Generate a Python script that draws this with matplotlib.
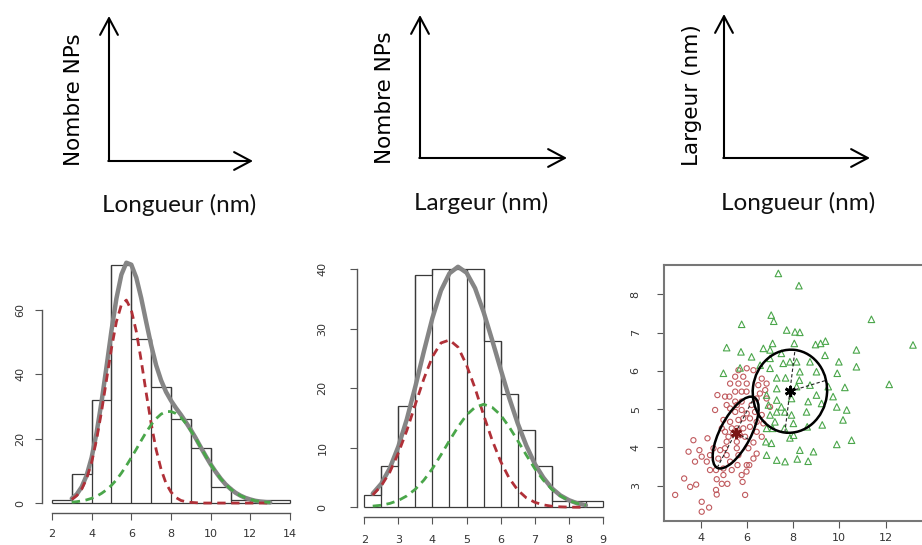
import matplotlib
matplotlib.use("Agg")
import matplotlib.pyplot as plt
from matplotlib.patches import Ellipse
from matplotlib.transforms import Affine2D
import numpy as np

W, H = 922, 545

# --- histogramme des longueurs (nm) ---
long_edges = [2, 3, 4, 5, 6, 7, 8, 9, 10, 11, 12, 13, 14]
long_counts = [1, 9, 32, 74, 51, 36, 26, 17, 5, 1, 1, 1]
long_x = [3.0, 3.25, 3.5, 3.75, 4.0, 4.25, 4.5, 4.75, 5.0, 5.25, 5.5, 5.75, 6.0, 6.25,
          6.5, 6.75, 7.0, 7.25, 7.5, 7.75, 8.0, 8.25, 8.5, 8.75, 9.0, 9.25, 9.5, 9.75,
          10.0, 10.25, 10.5, 10.75, 11.0, 11.25, 11.5, 11.75, 12.0, 12.25, 12.5, 12.75, 13.0]
long_total = [1.4, 2.7, 5.0, 8.6, 14.1, 21.8, 31.4, 42.3, 53.5, 63.5, 70.9, 74.6, 74.0, 70.0,
              63.6, 56.2, 49.0, 42.8, 38.1, 34.5, 31.8, 29.5, 27.4, 25.1, 22.7, 20.1, 17.3, 14.6,
              12.0, 9.7, 7.6, 5.8, 4.4, 3.2, 2.3, 1.6, 1.1, 0.7, 0.46, 0.29, 0.18]
long_red = [1.1, 2.3, 4.3, 7.6, 12.6, 19.7, 28.4, 38.2, 48.0, 56.3, 61.6, 63.0, 59.9, 53.3,
            44.2, 34.2, 24.7, 16.6, 10.5, 6.1, 3.4, 1.7, 0.8, 0.4, 0.2, 0.1, 0, 0,
            0, 0, 0, 0, 0, 0, 0, 0, 0, 0, 0, 0, 0]
long_green = [0.26, 0.42, 0.65, 0.99, 1.46, 2.1, 3.0, 4.1, 5.5, 7.2, 9.3, 11.6, 14.1, 16.7,
              19.4, 22.0, 24.3, 26.2, 27.6, 28.4, 28.4, 27.8, 26.6, 24.7, 22.5, 20.0, 17.3, 14.6,
              12.0, 9.7, 7.6, 5.8, 4.4, 3.2, 2.3, 1.6, 1.1, 0.7, 0.46, 0.29, 0.18]

# --- histogramme des largeurs (nm) ---
larg_edges = [2, 2.5, 3, 3.5, 4, 4.5, 5, 5.5, 6, 6.5, 7, 7.5, 8, 8.5, 9]
larg_counts = [2, 7, 17, 39, 40, 40, 40, 28, 19, 13, 7, 1, 1, 1]
larg_x = [2.25, 2.5, 2.75, 3.0, 3.25, 3.5, 3.75, 4.0, 4.25, 4.5, 4.75, 5.0, 5.25, 5.5,
          5.75, 6.0, 6.25, 6.5, 6.75, 7.0, 7.25, 7.5, 7.75, 8.0, 8.25, 8.5]
larg_total = [2.3, 3.95, 6.55, 10.2, 14.8, 20.3, 26.2, 31.8, 36.4, 39.3, 40.4, 39.4, 36.8, 32.8,
              28.1, 23.2, 18.4, 14.1, 10.4, 7.3, 5.0, 3.2, 2.0, 1.2, 0.66, 0.35]
larg_red = [2.06, 3.6, 5.9, 9.1, 12.9, 17.3, 21.6, 25.3, 27.6, 28.1, 26.9, 23.9, 20.0, 15.5,
            11.3, 7.7, 4.9, 2.9, 1.6, 0.84, 0.41, 0.18, 0.08, 0.03, 0.01, 0]
larg_green = [0.2, 0.35, 0.65, 1.14, 1.92, 3.04, 4.57, 6.5, 8.8, 11.2, 13.5, 15.5, 16.8, 17.3,
              16.8, 15.5, 13.5, 11.2, 8.8, 6.5, 4.57, 3.04, 1.92, 1.14, 0.65, 0.35]

# --- nuage longueur / largeur ---
red_x = [2.89, 4.04, 4.04, 4.36, 3.28, 3.54, 3.80, 4.69, 4.91, 5.15, 4.66, 4.69, 5.92, 5.81,
         5.98, 6.10, 3.47, 3.68, 4.29, 3.94, 4.04, 4.26, 4.55, 4.40, 4.66, 4.98, 5.34, 5.59,
         5.99, 5.63, 6.28, 6.42, 6.06, 6.28, 5.92, 5.56, 5.12, 4.84, 5.05, 5.34, 5.56, 4.98,
         4.62, 4.72, 5.05, 5.24, 5.49, 5.77, 5.27, 5.49, 5.77, 5.99, 6.13, 6.42, 6.13, 6.42,
         6.64, 6.71, 6.64, 5.49, 5.77, 5.98, 5.27, 5.63, 5.99, 5.49, 5.84, 5.63, 5.99, 6.28,
         6.64, 6.85, 6.49, 6.79, 6.56, 6.85, 7.00, 5.27, 5.63, 5.70, 5.12, 5.27, 5.77, 4.98,
         4.76, 4.40, 3.75, 5.56, 5.05, 5.41, 5.20, 4.91, 5.12, 5.56, 5.84, 5.84, 6.20, 6.35,
         6.42]
red_y = [2.76, 2.58, 2.32, 2.43, 3.19, 2.97, 3.03, 3.17, 3.05, 3.05, 2.89, 2.77, 2.76, 3.10,
         3.37, 3.54, 3.89, 4.19, 4.24, 3.93, 3.76, 3.63, 3.98, 3.41, 3.41, 3.45, 3.41, 3.54,
         3.54, 3.80, 3.71, 3.84, 3.98, 4.13, 4.28, 4.15, 4.15, 3.93, 4.41, 4.50, 4.50, 4.72,
         4.98, 5.37, 5.33, 5.33, 5.20, 5.20, 5.02, 4.93, 4.98, 4.89, 4.76, 4.67, 4.54, 4.41,
         4.28, 4.63, 4.85, 5.46, 5.46, 5.46, 5.67, 5.67, 5.67, 5.85, 5.85, 6.02, 6.07, 6.02,
         5.80, 5.67, 5.63, 5.50, 5.41, 5.28, 5.06, 4.67, 4.72, 4.32, 3.80, 3.63, 3.28, 3.28,
         3.71, 3.80, 3.63, 3.98, 3.98, 4.37, 4.28, 4.50, 5.11, 5.11, 4.76, 4.50, 5.11, 4.93,
         5.28]
green_x = [7.36, 8.25, 11.39, 13.19, 12.16, 5.77, 7.05, 7.16, 7.72, 8.08, 8.29, 7.11, 8.05, 6.71,
           7.00, 5.12, 5.74, 6.20, 8.97, 9.19, 9.40, 10.74, 9.38, 9.98, 10.74, 8.73, 8.15, 7.57,
           5.70, 4.98, 9.91, 7.67, 7.29, 8.27, 9.52, 10.24, 9.01, 9.73, 7.93, 7.29, 7.49, 8.58,
           9.89, 10.32, 7.93, 7.00, 8.61, 9.26, 7.62, 7.11, 8.02, 7.06, 6.82, 8.29, 8.88, 9.89,
           10.53, 6.85, 7.29, 7.65, 8.18, 8.65, 7.86, 7.21, 6.85, 7.29, 8.15, 8.29, 7.00, 6.57,
           9.01, 8.73, 9.23, 7.64, 7.29, 8.01, 6.93, 6.85, 7.86, 8.65, 7.49, 7.00, 10.16]
green_y = [8.55, 8.23, 7.35, 6.68, 5.65, 7.22, 7.46, 7.30, 7.07, 7.02, 7.01, 6.72, 6.72, 6.59,
           6.55, 6.61, 6.50, 6.37, 6.69, 6.72, 6.78, 6.55, 6.41, 6.24, 6.11, 6.24, 6.24, 6.20,
           6.08, 5.94, 5.94, 5.82, 5.82, 5.76, 5.59, 5.57, 5.37, 5.33, 5.28, 5.24, 5.06, 4.93,
           5.06, 4.98, 4.85, 4.85, 4.54, 4.59, 4.50, 4.50, 4.32, 4.11, 4.15, 3.93, 3.89, 4.08,
           4.19, 3.80, 3.67, 3.63, 3.70, 3.64, 4.25, 4.67, 4.50, 5.54, 5.59, 5.98, 6.07, 6.15,
           5.98, 5.63, 5.15, 4.93, 4.93, 4.63, 5.11, 5.37, 6.24, 5.20, 6.46, 6.33, 4.72]

# ellipses des deux classes : centre, bout du grand axe, bout du petit axe
ell_center = [(5.51, 4.39), (7.86, 5.47)]
ell_major = [(6.31, 5.31), (8.08, 6.55)]
ell_minor = [(6.10, 4.20), (9.40, 5.75)]
ell_star_color = ["#7a1515", "black"]

RED = "#b03038"
GREEN = "#4aa64a"
GRAY = "#858585"
AXC = "#555555"

fig = plt.figure(figsize=(W / 100, H / 100), dpi=100)


def px_axes(l, t, r, b):
    return fig.add_axes([l / W, 1 - b / H, (r - l) / W, (b - t) / H])


# ---------- schémas du haut ----------
ax0 = fig.add_axes([0, 0, 1, 1])
ax0.set_xlim(0, W)
ax0.set_ylim(H, 0)
ax0.axis("off")
arrow = dict(arrowstyle="->,head_length=0.6,head_width=0.32", lw=1.5, color="black",
             mutation_scale=20, shrinkA=0, shrinkB=0)
corners = [(109, 161, 16, 253), (420, 158, 15, 567), (724, 158, 14, 870)]
ylabs = ["Nombre NPs", "Nombre NPs", "Largeur (nm)"]
xlabs = ["Longueur (nm)", "Largeur (nm)", "Longueur (nm)"]
ylab_pos = [(74, 100), (385, 98), (692, 95)]
xlab_pos = [(179, 205), (481, 203), (798, 203)]
for (cx, cy, ytip, xtip), yl, xl, yp, xp in zip(corners, ylabs, xlabs, ylab_pos, xlab_pos):
    ax0.annotate("", xy=(cx, ytip), xytext=(cx, cy), arrowprops=arrow)
    ax0.annotate("", xy=(xtip, cy), xytext=(cx - 0.7, cy), arrowprops=arrow)
    ax0.text(yp[0], yp[1], yl, rotation=90, ha="center", va="center",
             fontsize=15.5, family="DejaVu Sans")
    ax0.text(xp[0], xp[1], xl, ha="center", va="center", fontsize=17.5, family="Lato",
             color="#111111")


def r_style(ax, xb, yb, xticks, yticks, xpad, ypad):
    for s in ["top", "right"]:
        ax.spines[s].set_visible(False)
    ax.spines["bottom"].set_bounds(*xb)
    ax.spines["left"].set_bounds(*yb)
    for s in ["bottom", "left"]:
        ax.spines[s].set_color(AXC)
        ax.spines[s].set_linewidth(1)
    ax.set_xticks(xticks)
    ax.set_yticks(yticks)
    ax.tick_params(axis="x", length=5, color=AXC, labelsize=8, labelcolor="#333333", pad=xpad)
    ax.tick_params(axis="y", length=5, color=AXC, labelsize=8, labelcolor="#333333", pad=ypad,
                   labelrotation=90)
    for lab in ax.get_yticklabels():
        lab.set_va("center")
    ax.patch.set_alpha(0)


def hist_panel(ax, edges, counts, x, total, red, green):
    ax.stairs(counts, edges, fill=False, edgecolor="#3a3a3a", lw=0.9)
    ax.stairs(counts, edges, fill=True, facecolor="white", edgecolor="none", zorder=0)
    for i in range(1, len(edges) - 1):
        h = max(counts[i - 1], counts[i])
        ax.vlines(edges[i], 0, h, color="#3a3a3a", lw=0.9)
    ax.hlines(0, edges[0], edges[-1], color="#3a3a3a", lw=0.9)
    ax.plot(x, total, color=GRAY, lw=3.2, solid_capstyle="round", zorder=3)
    ax.plot(x, red, color=RED, lw=2.0, dashes=(3, 2), zorder=4)
    ax.plot(x, green, color=GREEN, lw=2.0, dashes=(3, 2), zorder=4)


# ---------- histogramme longueur ----------
axA = px_axes(42, 255, 300, 512.7)
hist_panel(axA, long_edges, long_counts, long_x, long_total, long_red, long_green)
axA.set_xlim(1.5, 14.5)
axA.set_ylim(-3, 77)
r_style(axA, (2, 14), (0, 60), [2, 4, 6, 8, 10, 12, 14], [0, 20, 40, 60], 7, 7)

# ---------- histogramme largeur ----------
axB = px_axes(356.7, 262, 609.8, 517.3)
hist_panel(axB, larg_edges, larg_counts, larg_x, larg_total, larg_red, larg_green)
axB.set_xlim(1.78, 9.2)
axB.set_ylim(-1.68, 41.2)
r_style(axB, (2, 9), (0, 40), [2, 3, 4, 5, 6, 7, 8, 9], [0, 10, 20, 30, 40], 8, 16)

# ---------- nuage de points ----------
cl, ct, cr, cb = 664.3, 265, 940, 520.7
axC = px_axes(cl, ct, cr, cb)
xl0, xl1, yl0, yl1 = 2.42, 14.36, 2.086, 8.77
axC.set_xlim(xl0, xl1)
axC.set_ylim(yl0, yl1)
axC.scatter(red_x, red_y, s=14, marker="o", facecolors="none", edgecolors="#c05a5e", lw=0.8)
axC.scatter(green_x, green_y, s=22, marker="^", facecolors="none", edgecolors=GREEN, lw=0.8)

kx = (cr - cl) / (xl1 - xl0)
ky = (cb - ct) / (yl1 - yl0)
to_data = Affine2D().scale(1 / kx, 1 / ky) + axC.transData
for c, ma, mi, sc in zip(ell_center, ell_major, ell_minor, ell_star_color):
    ax_dx, ax_dy = (ma[0] - c[0]) * kx, (ma[1] - c[1]) * ky
    mi_dx, mi_dy = (mi[0] - c[0]) * kx, (mi[1] - c[1]) * ky
    width = 2 * np.hypot(ax_dx, ax_dy)
    height = 2 * np.hypot(mi_dx, mi_dy)
    ang = np.degrees(np.arctan2(ax_dy, ax_dx))
    axC.add_patch(Ellipse((c[0] * kx, c[1] * ky), width, height, angle=ang,
                          transform=to_data, fill=False, ec="black", lw=1.8, zorder=5))
    axC.plot([2 * c[0] - ma[0], ma[0]], [2 * c[1] - ma[1], ma[1]], color="#222222",
             lw=0.8, dashes=(3, 2), zorder=5)
    axC.plot([c[0], mi[0]], [c[1], mi[1]], color="#222222", lw=0.8, dashes=(3, 2), zorder=5)
    axC.plot(c[0], c[1], marker=(6, 2, 0), ms=8, mew=2, color=sc, zorder=6)

for s in axC.spines.values():
    s.set_color("#777777")
    s.set_linewidth(1.5)
axC.set_xticks([4, 6, 8, 10, 12])
axC.set_yticks([3, 4, 5, 6, 7, 8])
axC.tick_params(axis="x", length=5, color=AXC, labelsize=8, labelcolor="#333333", pad=4)
axC.tick_params(axis="y", length=5, color=AXC, labelsize=8, labelcolor="#333333", pad=12,
                labelrotation=90)
for lab in axC.get_yticklabels():
    lab.set_va("center")

fig.savefig("out.png", dpi=100)
